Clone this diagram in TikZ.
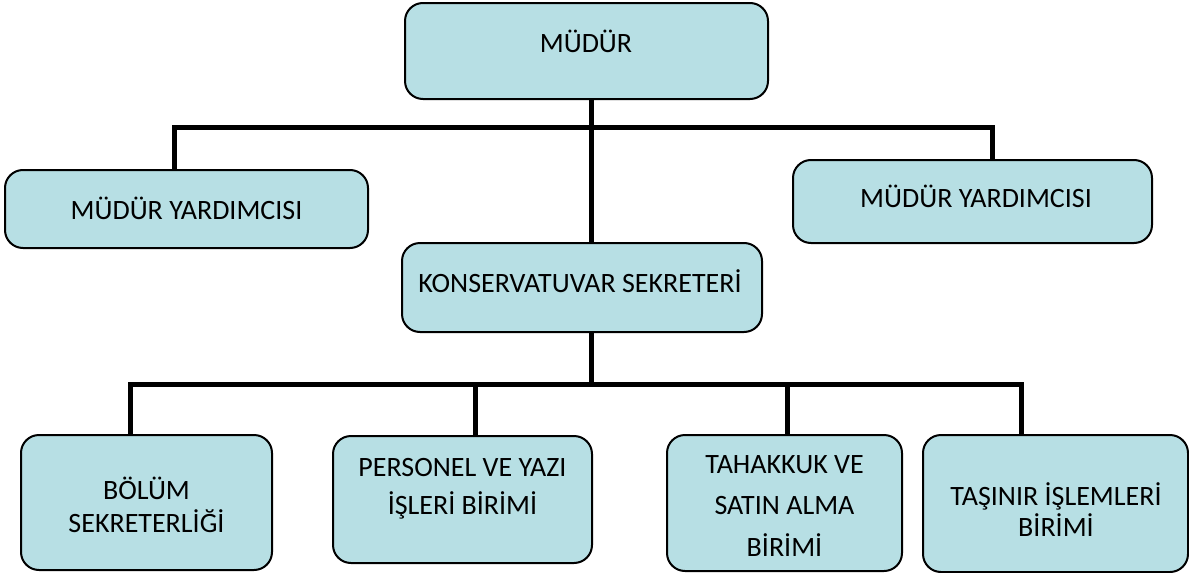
\documentclass[tikz,border=0pt]{standalone}
\usepackage{fontspec}
\setmainfont{Carlito}
\definecolor{boxfill}{HTML}{B7DFE4}
\begin{document}
\begin{tikzpicture}[x=0.5pt,y=-0.5pt,
  box/.style 2 args={draw=black, line width=1pt, fill=boxfill, rounded corners=9pt,
    inner sep=0pt, minimum width=#1*0.5pt, minimum height=#2*0.5pt},
  lbl/.style={anchor=base, inner sep=0pt, font=\fontsize{14}{#1}\selectfont},
  lbl/.default=17,
  conn/.style={line width=2.5pt, draw=black}]
\useasboundingbox (0,0) rectangle (1189,573);

% boxes
\node[box={363}{96}]  (mudur) at (586.5,51)   {};
\node[box={363}{78}]  (ly)    at (186.5,209)  {};
\node[box={359}{83}]  (ry)    at (972.5,201.5){};
\node[box={360}{89}]  (ks)    at (582,287.5)  {};
\node[box={251}{135}] (bo)    at (146.5,502.5){};
\node[box={259}{127}] (pe)    at (462.5,499.5){};
\node[box={235}{136}] (ta)    at (784.5,503)  {};
\node[box={265}{137}] (ts)    at (1055.5,503.5){};

% labels
\node[lbl] (mudur-t) at (586,52)   {MÜDÜR};
\node[lbl] (ly-t)    at (186.5,219) {MÜDÜR YARDIMCISI};
\node[lbl] (ry-t)    at (976,207)  {MÜDÜR YARDIMCISI};
\node[lbl] (ks-t)    at (580,292)  {KONSERVATUVAR SEKRETERİ};
\node[lbl=16.5] (bo-t) at (146.5,499) {\begin{tabular}[t]{@{}c@{}}BÖLÜM\\SEKRETERLİĞİ\end{tabular}};
\node[lbl=19]   (pe-t) at (462.5,476) {\begin{tabular}[t]{@{}c@{}}PERSONEL VE YAZI\\İŞLERİ BİRİMİ\end{tabular}};
\node[lbl=20.75](ta-t) at (784.5,473) {\begin{tabular}[t]{@{}c@{}}TAHAKKUK VE\\SATIN ALMA\\BİRİMİ\end{tabular}};
\node[lbl=14.5] (ts-t) at (1056,505)  {\begin{tabular}[t]{@{}c@{}}TAŞINIR İŞLEMLERİ\\BİRİMİ\end{tabular}};

% connectors (top)
\coordinate (t0) at (591,127.5);
\coordinate (tl) at (174,127.5);
\coordinate (tr) at (992,127.5);
\draw[conn] (mudur.south -| t0) -- (t0);
\draw[conn] (tl |- ly.north) -- (tl) -- (tr) -- (tr |- ry.north);
\draw[conn] (t0) -- (t0 |- ks.north);

% connectors (bottom)
\coordinate (b0) at (591,384.5);
\coordinate (b1) at (130,384.5);
\coordinate (b2) at (475,384.5);
\coordinate (b3) at (787,384.5);
\coordinate (b4) at (1021,384.5);
\draw[conn] (ks.south -| b0) -- (b0);
\draw[conn] (b1 |- bo.north) -- (b1) -- (b4) -- (b4 |- ts.north);
\draw[conn] (b2) -- (b2 |- pe.north);
\draw[conn] (b3) -- (b3 |- ta.north);
\end{tikzpicture}
\end{document}
